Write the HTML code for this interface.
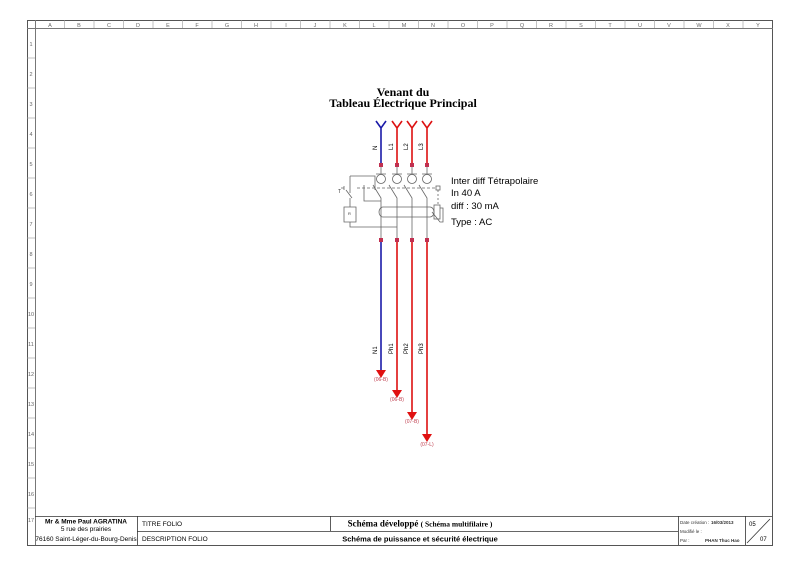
<!DOCTYPE html>
<html><head><meta charset="utf-8"><style>
body{margin:0;background:#fff;width:800px;height:565px;overflow:hidden}
svg{display:block}
text{font-family:"Liberation Sans",sans-serif}
text.serif{font-family:"Liberation Serif",serif}
</style></head><body>
<svg width="800" height="565" viewBox="0 0 800 565" xmlns="http://www.w3.org/2000/svg">
<rect x="27.5" y="20.5" width="745" height="525" fill="none" stroke="#555" stroke-width="1"/>
<line x1="27" y1="28.5" x2="773" y2="28.5" stroke="#777"/>
<line x1="35.5" y1="20" x2="35.5" y2="545" stroke="#777"/>
<g stroke="#999" stroke-width="0.6">
<line x1="64.5" y1="20" x2="64.5" y2="28"/><line x1="94" y1="20" x2="94" y2="28"/><line x1="123.5" y1="20" x2="123.5" y2="28"/><line x1="153" y1="20" x2="153" y2="28"/><line x1="182.5" y1="20" x2="182.5" y2="28"/><line x1="212" y1="20" x2="212" y2="28"/><line x1="241.5" y1="20" x2="241.5" y2="28"/><line x1="271" y1="20" x2="271" y2="28"/><line x1="300.5" y1="20" x2="300.5" y2="28"/><line x1="330" y1="20" x2="330" y2="28"/><line x1="359.5" y1="20" x2="359.5" y2="28"/><line x1="389" y1="20" x2="389" y2="28"/><line x1="418.5" y1="20" x2="418.5" y2="28"/><line x1="448" y1="20" x2="448" y2="28"/><line x1="477.5" y1="20" x2="477.5" y2="28"/><line x1="507" y1="20" x2="507" y2="28"/><line x1="536.5" y1="20" x2="536.5" y2="28"/><line x1="566" y1="20" x2="566" y2="28"/><line x1="595.5" y1="20" x2="595.5" y2="28"/><line x1="625" y1="20" x2="625" y2="28"/><line x1="654.5" y1="20" x2="654.5" y2="28"/><line x1="684" y1="20" x2="684" y2="28"/><line x1="713.5" y1="20" x2="713.5" y2="28"/><line x1="743" y1="20" x2="743" y2="28"/>
<line x1="27" y1="58" x2="35" y2="58"/><line x1="27" y1="88" x2="35" y2="88"/><line x1="27" y1="118" x2="35" y2="118"/><line x1="27" y1="148" x2="35" y2="148"/><line x1="27" y1="178" x2="35" y2="178"/><line x1="27" y1="208" x2="35" y2="208"/><line x1="27" y1="238" x2="35" y2="238"/><line x1="27" y1="268" x2="35" y2="268"/><line x1="27" y1="298" x2="35" y2="298"/><line x1="27" y1="328" x2="35" y2="328"/><line x1="27" y1="358" x2="35" y2="358"/><line x1="27" y1="388" x2="35" y2="388"/><line x1="27" y1="418" x2="35" y2="418"/><line x1="27" y1="448" x2="35" y2="448"/><line x1="27" y1="478" x2="35" y2="478"/><line x1="27" y1="508" x2="35" y2="508"/>
</g>
<g font-size="5.5" fill="#666" text-anchor="middle">
<text x="50" y="27">A</text><text x="79" y="27">B</text><text x="109" y="27">C</text><text x="138" y="27">D</text><text x="168" y="27">E</text><text x="197" y="27">F</text><text x="227" y="27">G</text><text x="256" y="27">H</text><text x="286" y="27">I</text><text x="315" y="27">J</text><text x="345" y="27">K</text><text x="374" y="27">L</text><text x="404" y="27">M</text><text x="433" y="27">N</text><text x="463" y="27">O</text><text x="492" y="27">P</text><text x="522" y="27">Q</text><text x="551" y="27">R</text><text x="581" y="27">S</text><text x="610" y="27">T</text><text x="640" y="27">U</text><text x="669" y="27">V</text><text x="699" y="27">W</text><text x="728" y="27">X</text><text x="758" y="27">Y</text>
<text x="31" y="46">1</text><text x="31" y="76">2</text><text x="31" y="106">3</text><text x="31" y="136">4</text><text x="31" y="166">5</text><text x="31" y="196">6</text><text x="31" y="226">7</text><text x="31" y="256">8</text><text x="31" y="286">9</text><text x="31" y="316">10</text><text x="31" y="346">11</text><text x="31" y="376">12</text><text x="31" y="406">13</text><text x="31" y="436">14</text><text x="31" y="466">15</text><text x="31" y="496">16</text><text x="31" y="522">17</text>
</g>
<g stroke="#333" stroke-width="0.8" fill="none">
<line x1="35" y1="516.5" x2="772" y2="516.5"/>
<line x1="137" y1="531.5" x2="678" y2="531.5"/>
<line x1="137.5" y1="516" x2="137.5" y2="545"/>
<line x1="330.5" y1="516" x2="330.5" y2="531"/>
<line x1="678.5" y1="516" x2="678.5" y2="545"/>
<line x1="745.5" y1="516" x2="745.5" y2="545"/>
<line x1="747" y1="543" x2="770" y2="519"/>
</g>
<g font-size="6.5" fill="#000">
<text x="86" y="523.5" text-anchor="middle" font-weight="bold">Mr &amp; Mme Paul AGRATINA</text>
<text x="86" y="531" text-anchor="middle">5 rue des prairies</text>
<text x="86" y="541" text-anchor="middle">76160 Saint-Léger-du-Bourg-Denis</text>
<text x="142" y="526">TITRE FOLIO</text>
<text x="142" y="541">DESCRIPTION FOLIO</text>
<text x="749" y="526" font-size="6">05</text>
<text x="760" y="541" font-size="6">07</text>
</g>
<text class="serif" x="420" y="526.5" text-anchor="middle" font-size="9" font-weight="bold">Schéma développé <tspan font-size="7.5">( Schéma multifilaire )</tspan></text>
<text x="420" y="541.5" text-anchor="middle" font-size="7.5" font-weight="bold">Schéma de puissance et sécurité électrique</text>
<g font-size="4.5" fill="#333"><text x="680" y="524">Date création :</text><text x="711" y="524" font-weight="bold">16/03/2013</text><text x="680" y="533">Modifié le :</text><text x="680" y="542">Par :</text><text x="705" y="542" font-weight="bold">PHAN Thuc Hao</text></g>
<text class="serif" x="403" y="96" text-anchor="middle" font-weight="bold" font-size="12">Venant du</text>
<text class="serif" x="403" y="107" text-anchor="middle" font-weight="bold" font-size="12">Tableau Électrique Principal</text>
<g stroke-width="1.6" fill="none">
<path d="M376 121 L381 128 L386 121 M381 128 V165" stroke="#1a1aa8"/>
<path d="M392 121 L397 128 L402 121 M397 128 V165" stroke="#d11"/>
<path d="M407 121 L412 128 L417 121 M412 128 V165" stroke="#d11"/>
<path d="M422 121 L427 128 L432 121 M427 128 V165" stroke="#d11"/>
</g>
<g fill="#c03050"><rect x="379" y="163" width="4" height="4"/><rect x="395" y="163" width="4" height="4"/><rect x="410" y="163" width="4" height="4"/><rect x="425" y="163" width="4" height="4"/>
<rect x="379" y="238" width="4" height="4"/><rect x="395" y="238" width="4" height="4"/><rect x="410" y="238" width="4" height="4"/><rect x="425" y="238" width="4" height="4"/></g>
<g font-size="6" fill="#000">
<text transform="translate(377,150) rotate(-90)">N</text><text transform="translate(393,150) rotate(-90)">L1</text><text transform="translate(408,150) rotate(-90)">L2</text><text transform="translate(423,150) rotate(-90)">L3</text>
</g>
<g stroke="#666" stroke-width="0.8" fill="none">
<path d="M381 167 V174 M397 167 V174 M412 167 V174 M427 167 V174"/>
<path d="M376 174 H386 M392 174 H402 M407 174 H417 M422 174 H432"/>
<circle cx="381" cy="179" r="4.5"/><circle cx="397" cy="179" r="4.5"/><circle cx="412" cy="179" r="4.5"/><circle cx="427" cy="179" r="4.5"/>
<path d="M373 185 L381 198 V238 M389 185 L397 198 V238 M404 185 L412 198 V238 M419 185 L427 198 V238"/>
<path d="M350 176 H375 V190 M350 176 V193 M346 190 L352 198 M350 198 V207 M344 207 H356 V222 H344 Z M350 222 V227 H397"/>
<path d="M364 185 V201 H381"/>
<path d="M357 188 H436" stroke-dasharray="3,2"/>
<rect x="436" y="186" width="4" height="4"/>
<path d="M438 190 V205" stroke-dasharray="2,2"/>
<rect x="434" y="205" width="6" height="14"/>
<path d="M383 207 H430 A4 5 0 0 1 430 217 H383 A4 5 0 0 1 383 207 Z"/>
<path d="M432 212 L440 222 H443 V208 H440"/>
<path d="M341 188 H344 M344 186 V190"/>
</g>
<text x="348" y="215" font-size="4" fill="#333">R</text>
<text x="338" y="193" font-size="5" fill="#333">T</text>
<g font-size="9.5" fill="#000">
<text x="451" y="184">Inter diff Tétrapolaire</text>
<text x="451" y="196">In 40 A</text>
<text x="451" y="209">diff : 30 mA</text>
<text x="451" y="225">Type : AC</text>
</g>
<g stroke-width="1.6" fill="none">
<path d="M381 242 V372" stroke="#1a1aa8"/>
<path d="M397 242 V392" stroke="#d11"/>
<path d="M412 242 V414" stroke="#d11"/>
<path d="M427 242 V436" stroke="#d11"/>
</g>
<g fill="#e01010">
<path d="M376 370 L386 370 L381 378 Z"/><path d="M392 390 L402 390 L397 398 Z"/><path d="M407 412 L417 412 L412 420 Z"/><path d="M422 434 L432 434 L427 442 Z"/>
</g>
<g font-size="6" fill="#000">
<text transform="translate(377,354) rotate(-90)">N1</text><text transform="translate(393,354) rotate(-90)">Ph1</text><text transform="translate(408,354) rotate(-90)">Ph2</text><text transform="translate(423,354) rotate(-90)">Ph3</text>
</g>
<g font-size="5" fill="#c04050" text-anchor="middle">
<text x="381" y="381">(06-B)</text><text x="397" y="401">(06-B)</text><text x="412" y="423">(07-B)</text><text x="427" y="446">(07-L)</text>
</g>
</svg>
</body></html>
